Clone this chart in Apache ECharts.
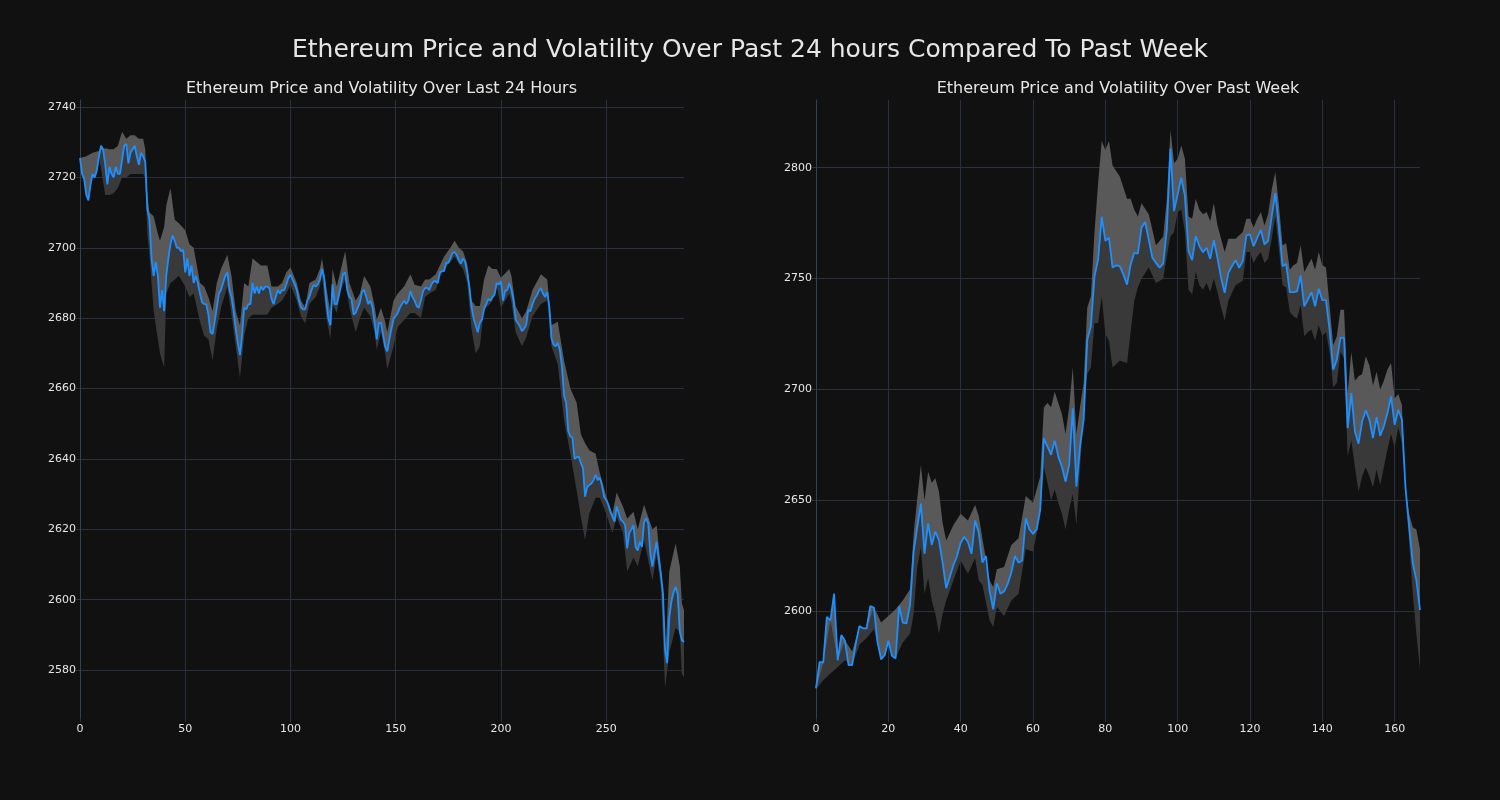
<!DOCTYPE html>
<html><head><meta charset="utf-8">
<script src="https://cdn.jsdelivr.net/npm/echarts@6/dist/echarts.min.js"></script>
<style>html,body{margin:0;padding:0;background:#111111;} #c{width:1500px;height:800px;}</style>
</head><body><div id="c"></div>
<script>
const mainTitle = 'Ethereum Price and Volatility Over Past 24 hours Compared To Past Week';
const dayTitle = 'Ethereum Price and Volatility Over Last 24 Hours';
const weekTitle = 'Ethereum Price and Volatility Over Past Week';

const dayPrice = [
2725.5,2721,2719.5,2715,2713.5,2718,2721,2720,2722,2726,
2729,2728,2723.6,2718,2723,2721,2720,2723,2721,2721,
2725,2729,2729.5,2724,2727,2728,2729,2726,2723.6,2727,
2726,2724.5,2711,2708,2697,2692,2696,2692,2683,2688,
2682,2692,2697,2701,2703.5,2702,2700,2700,2699,2699.5,
2693,2697,2692,2695,2690,2692,2690,2687,2684.5,2684,
2684,2681,2676,2675.5,2679,2683,2687,2688,2690,2692,
2693,2688,2686,2682,2677,2673,2669.5,2675,2683,2682.5,
2684,2684,2690,2687,2689,2687,2689,2688,2689,2689,
2688.5,2685.5,2684,2686,2688,2687,2688,2688,2689.5,2691.4,
2692.4,2691,2689.6,2688,2685,2683,2682.5,2682.5,2685,2686,
2688,2689.5,2689,2689.6,2691,2694,2691.5,2685,2680,2678,
2689.6,2684,2684,2686.5,2689.5,2692.5,2693,2688,2686,2685.5,
2681,2681.5,2683,2684.5,2687.5,2688,2686,2684,2685,2683,
2678.7,2674,2678.7,2678.7,2675.4,2672,2670.6,2674,2677,2679.8,
2680.6,2681.5,2683,2684,2685,2684,2685,2687.7,2686,2685,
2683.4,2683,2685,2687.7,2688.6,2688.6,2688,2689.6,2690.5,2690.5,
2690,2693,2693.4,2693.4,2695.7,2695.7,2697,2698.6,2698.8,2698,
2696.5,2695.5,2697,2696,2693,2689,2683.4,2680,2678,2676,
2678.7,2679.6,2682.5,2684,2685.5,2685,2686,2686.7,2690,2689.6,
2690.5,2685,2687.7,2688,2690,2688,2685,2679.6,2678.7,2677.7,
2676.3,2677,2678,2682.4,2682,2684,2685.5,2686.4,2687.7,2688.6,
2687,2686,2687.4,2683.4,2674.4,2672.5,2672,2673,2671,2666.3,
2658,2656,2648,2646.4,2646,2640,2640.5,2640.7,2638.8,2637.4,
2629.3,2632,2632.6,2633,2634,2635.5,2634,2634.7,2632.6,2629.3,
2628.4,2627,2625,2623.6,2622.2,2626.5,2624.6,2622.7,2622.2,2621.2,
2614.6,2619,2620,2621.2,2615,2614,2616.5,2615,2622,2623.2,
2621.7,2613,2609.4,2613.2,2616.5,2611.3,2607.5,2601.8,2586,2582,
2595,2599.5,2602,2603.7,2601.5,2591,2588.5,2588
];
const dayBandX = [0,3,6,9,12,14,16,18,20,22,24,26,28,30,31,32,33,35,37,38,40,41,43,45,47,50,52,54,57,59,61,63,65,67,70,72,74,76,78,80,82,84,86,89,91,94,96,98,100,103,105,107,109,112,114,115,117,119,120,122,124,126,128,131,133,135,138,140,141,143,145,146,149,151,154,157,159,162,164,166,169,171,173,176,178,180,182,184,186,188,190,192,194,196,198,200,204,205,207,210,212,215,219,222,224,227,230,233,236,238,240,242,245,247,250,253,255,258,260,263,265,268,272,274,276,278,280,283,285,286,287];
const dayBandHi = [2725.5,2726,2727,2727.5,2728.3,2728,2728,2729,2733,2731,2732,2732,2731,2731,2728,2715,2710,2709,2704,2702,2706,2712,2717,2708,2707,2705,2701,2700,2690,2689,2686,2682,2690,2694,2698,2692,2682,2678,2690,2689,2697,2696,2695,2695,2689,2689,2690,2693,2694.5,2690,2685,2683,2690,2691,2694,2697,2689,2681.5,2694,2689,2694,2699,2690,2685,2687,2692,2689,2683.5,2679.5,2683,2679,2676,2685,2687,2689,2692.5,2689.5,2689,2691,2691,2692.5,2695,2697.5,2700,2702,2700,2699,2695.5,2685,2683.5,2683.5,2691,2695,2694,2694,2691.5,2694,2692,2683.5,2680,2682,2688,2692.5,2691,2678,2679,2668,2660,2656,2647,2644.5,2642.5,2641.5,2636,2629.5,2624.5,2630.5,2626.5,2623,2625,2620,2627,2620,2621,2609.5,2582,2608,2616,2609.5,2599,2597];
const dayBandLo = [2725.5,2715,2721,2726,2715,2715,2715.5,2717,2720,2720,2721,2721,2721,2721,2720,2704,2698,2682,2674,2670,2666,2687,2690,2691,2692,2689,2686,2687,2679,2675,2674,2668,2677,2683,2689,2681,2672,2663,2675,2680,2681,2681,2681,2681,2683,2684,2685,2687,2689.5,2685,2680.5,2678.5,2684,2686,2689,2692,2680.5,2674,2684,2681.5,2688,2691,2683,2676,2680,2683,2680.5,2676,2671,2676,2670,2665.5,2672,2677.5,2679.5,2681.5,2681.5,2680,2686,2687,2688,2691.5,2694,2696,2697.5,2695.5,2694,2690,2677,2670,2672,2683,2683.5,2685,2689,2683,2687,2684.5,2676,2672,2674.5,2680.5,2684,2685,2672,2667,2651,2641.5,2631,2623.5,2617,2624.5,2629,2629,2624.5,2619,2623.5,2619,2608,2612,2609.5,2617,2605.5,2613,2603.5,2575,2585,2592,2591,2579,2578];

const weekPrice = [
2565.3,2577.3,2577,2597.6,2596,2608,2578,2589.4,2586.8,2575.8,
2575.8,2585.6,2593.4,2592.4,2592.4,2602.4,2601.8,2586.3,2578.4,2580.3,
2586.8,2580,2578.8,2602.4,2595,2594.6,2602.9,2627,2638,2648.6,
2626,2639.7,2630,2636,2632,2622,2610.5,2615.5,2621,2625,
2631,2633.7,2631.3,2626,2641,2635.5,2622,2625,2609.4,2601,
2612.7,2608,2609,2612.4,2617.6,2625,2622,2623,2642,2637,
2635,2637,2646,2678,2674.3,2670.6,2677,2669.8,2665.3,2658.5,
2666,2691.6,2656.3,2674.3,2686.4,2722.5,2728.5,2751,2758.6,2777.9,
2767,2768.4,2755,2756,2755.6,2751.8,2747.3,2756.4,2761.6,2761.3,
2772.9,2775.5,2767.6,2759.4,2757.1,2754.9,2756.8,2772.2,2808.6,2780.4,
2788,2795.5,2787.2,2762.4,2758.3,2769.2,2764.6,2761.9,2763.9,2758.9,
2767.3,2759.4,2750.3,2743.6,2752.6,2755.6,2758.3,2754.9,2757.9,2769.5,
2769.9,2764.6,2768.4,2771.9,2765.4,2766.9,2778.2,2788.5,2773,2755.6,
2756.6,2743.9,2743.9,2744.3,2751.4,2737.5,2740.6,2743.9,2737.5,2745.4,
2740.3,2740.3,2727,2709,2713.5,2723.3,2723.3,2682.6,2698.4,2681.1,
2675.6,2685.6,2690.6,2686.4,2678.1,2687.6,2679.2,2683.4,2689.4,2696.9,
2684.1,2690.9,2686.4,2655.5,2638.2,2621.7,2614.1,2600.6
];
const weekBandX = [0,2,4,6,8,10,12,14,16,18,20,22,24,26,27,28,29,30,31,32,33,34,35,36,38,40,42,44,45,46,48,49,50,52,54,56,58,60,62,63,64,65,66,67,68,69,70,71,72,73,74,75,76,77,78,79,80,81,82,84,86,87,88,89,90,92,94,96,97,98,99,100,101,102,103,104,105,106,107,108,109,110,111,112,113,114,116,118,119,120,121,122,123,124,125,126,127,128,129,130,131,132,133,134,135,136,137,138,139,140,141,142,143,144,145,146,147,148,149,150,151,152,153,154,155,156,157,158,159,160,161,162,163,164,165,166,167];
const weekBandHi = [2565,2577,2596,2578,2587,2582,2593,2592,2602,2595,2598,2601,2605,2610,2635,2651,2666,2650,2663,2658,2660,2654,2640,2632,2639,2644,2641,2648,2643,2633,2614,2611,2619,2620,2630,2633,2652,2649,2661,2692,2694,2692,2699,2694,2689,2680,2692,2710,2680,2692,2703,2737,2742,2771,2793,2812,2808,2812,2801,2796,2786,2786,2781,2778,2784,2779,2765,2769,2786,2817,2802,2804,2810,2804,2778,2777,2786,2781,2779,2780,2776,2784,2774,2768,2762,2768,2768,2771,2777,2777,2773,2777,2780,2774,2779,2790,2798,2783,2765,2766,2754,2756,2757,2765,2753,2756,2759,2754,2762,2756,2755,2738,2720,2724,2736,2736,2698,2717,2704,2706,2707,2715,2711,2702,2708,2700,2704,2709,2712,2696,2698,2693,2655,2644,2638,2637,2628];
const weekBandLo = [2565,2569,2572,2575,2578,2576,2585,2588,2592,2578,2587,2579,2586,2590,2599,2620,2629,2608,2615,2605,2599,2590,2599,2605,2614,2623,2617,2624,2614,2612,2596,2593,2602,2598,2605,2608,2628,2627,2643,2665,2658,2650,2655,2649,2644,2637,2646,2653,2639,2665,2689,2707,2710,2730,2730,2742,2725,2722,2710,2713,2712,2726,2740,2746,2750,2755,2748,2750,2760,2769,2771,2780,2781,2771,2745,2743,2753,2747,2745,2748,2744,2750,2744,2737,2731,2740,2747,2749,2762,2762,2757,2760,2762,2757,2759,2768,2778,2763,2747,2746,2735,2733,2732,2738,2724,2726,2727,2722,2729,2724,2726,2717,2701,2703,2717,2714,2670,2677,2665,2654,2661,2665,2661,2656,2664,2657,2665,2673,2680,2674,2683,2676,2653,2631,2608,2590,2574];

const FONT = 'DejaVu Sans';
const GRID_C = '#28313d';
const TEXT_C = '#e6e6e6';
const LINE_C = '#1e8fff';
const LIGHT_C = '#595959';
const DARK_C = '#393939';

function bandSeries(idx, price, bx, hi, lo) {
  return {
    type: 'custom', xAxisIndex: idx, yAxisIndex: idx, silent: true, z: 1,
    animation: false,
    data: [[0, price[0]]],
    renderItem: function (params, api) {
      const pricePts = price.map((v, i) => api.coord([i, v]));
      const rev = pricePts.slice().reverse();
      const hiPts = bx.map((x, k) => api.coord([x, hi[k]]));
      const loPts = bx.map((x, k) => api.coord([x, lo[k]]));
      return {
        type: 'group',
        children: [
          { type: 'polygon', shape: { points: loPts.concat(rev) }, style: { fill: DARK_C } },
          { type: 'polygon', shape: { points: hiPts.concat(rev) }, style: { fill: LIGHT_C } }
        ]
      };
    }
  };
}
function lineSeries(idx, price) {
  return {
    type: 'line', xAxisIndex: idx, yAxisIndex: idx, z: 3,
    data: price.map((v, i) => [i, v]),
    showSymbol: false, symbol: 'none', animation: false,
    lineStyle: { color: LINE_C, width: 1.8 }
  };
}
const plainNum = v => String(Math.round(v));
function xAx(idx, max, interval) {
  return {
    type: 'value', gridIndex: idx, min: 0, max: max, interval: interval,
    axisLine: { show: false },
    axisTick: { show: true, length: 4, lineStyle: { color: GRID_C } },
    axisLabel: { color: TEXT_C, fontFamily: FONT, fontSize: 11, margin: 6, showMaxLabel: false, formatter: plainNum },
    splitLine: { show: true, showMaxLine: false, lineStyle: { color: GRID_C, width: 1 } }
  };
}
function yAx(idx, min, max, split) {
  return {
    type: 'value', gridIndex: idx, min: min, max: max, splitNumber: split,
    axisLine: { show: true, lineStyle: { color: '#33404f', width: 1 } },
    axisTick: { show: true, length: 4, lineStyle: { color: GRID_C } },
    axisLabel: { color: TEXT_C, fontFamily: FONT, fontSize: 11, margin: 4, showMinLabel: false, showMaxLabel: false, formatter: plainNum },
    splitLine: { show: true, showMinLine: false, showMaxLine: false, lineStyle: { color: GRID_C, width: 1 } }
  };
}

const chart = echarts.init(document.getElementById('c'), null, { renderer: 'canvas' });
chart.setOption({
  backgroundColor: '#111111',
  animation: false,
  graphic: [
    { type: 'text', x: 750, y: 50, style: { text: mainTitle, fill: TEXT_C, font: '25px "DejaVu Sans"', textAlign: 'center', textVerticalAlign: 'middle' } },
    { type: 'text', x: 381.5, y: 89, style: { text: dayTitle, fill: TEXT_C, font: '16px "DejaVu Sans"', textAlign: 'center', textVerticalAlign: 'middle' } },
    { type: 'text', x: 1118, y: 89, style: { text: weekTitle, fill: TEXT_C, font: '16px "DejaVu Sans"', textAlign: 'center', textVerticalAlign: 'middle' } }
  ],
  grid: [
    { left: 80, top: 100, width: 604, height: 618 },
    { left: 816, top: 100, width: 604, height: 618 }
  ],
  xAxis: [xAx(0, 287, 50), xAx(1, 167, 20)],
  yAxis: [yAx(0, 2566.4, 2742, 8), yAx(1, 2552, 2830.5, 5)],
  series: [
    bandSeries(0, dayPrice, dayBandX, dayBandHi, dayBandLo),
    lineSeries(0, dayPrice),
    bandSeries(1, weekPrice, weekBandX, weekBandHi, weekBandLo),
    lineSeries(1, weekPrice)
  ]
});
</script>
</body></html>
